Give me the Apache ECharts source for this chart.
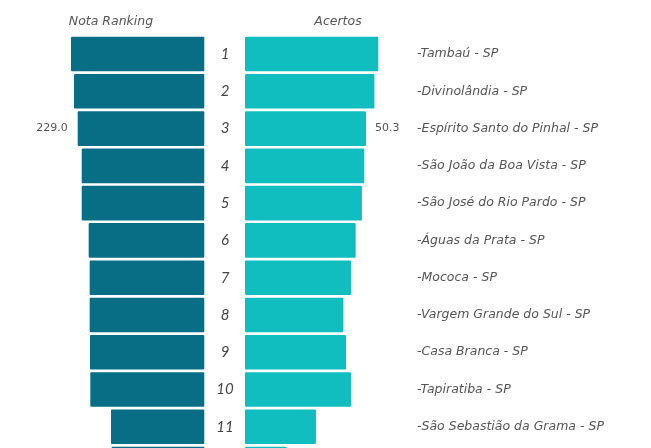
<!DOCTYPE html>
<html>
<head>
<meta charset="utf-8">
<script src="https://cdn.jsdelivr.net/npm/echarts@6/dist/echarts.min.js"></script>
<style>html,body{margin:0;padding:0;background:#fff;overflow:hidden;}#c{width:651px;height:500px;}</style>
</head>
<body>
<div id="c"></div>
<script>
const ranks = ['1','2','3','4','5','6','7','8','9','10','11','12'];
const cities = ['Tambaú - SP','Divinolândia - SP','Espírito Santo do Pinhal - SP','São João da Boa Vista - SP','São José do Rio Pardo - SP','Águas da Prata - SP','Mococa - SP','Vargem Grande do Sul - SP','Casa Branca - SP','Tapiratiba - SP','São Sebastião da Grama - SP','Itobi - SP'];
const notaRanking = [241.1, 235.7, 229.0, 221.7, 221.7, 209.1, 207.3, 207.3, 206.7, 206.2, 168.7, 167.5];
const acertos = [55.4, 53.8, 50.3, 49.6, 48.6, 46.0, 44.1, 40.9, 42.0, 44.1, 29.5, 17.3];
const labelIndex = 2;

const chart = echarts.init(document.getElementById('c'));
const gridTop = 35.4, gridH = 447.3;
const txt = '#555';
chart.setOption({
  animation: false,
  title: [
    {text: 'Nota Ranking', left: 106, top: 10, textAlign: 'center',
     textStyle: {fontFamily: 'DejaVu Sans', fontStyle: 'italic', fontSize: 12.5, fontWeight: 'normal', color: txt}},
    {text: 'Acertos', left: 333, top: 10, textAlign: 'center',
     textStyle: {fontFamily: 'DejaVu Sans', fontStyle: 'italic', fontSize: 12.5, fontWeight: 'normal', color: txt}}
  ],
  grid: [
    {left: 0, top: gridTop, width: 204.3, height: gridH},
    {left: 245, top: gridTop, width: 172, height: gridH}
  ],
  xAxis: [
    {gridIndex: 0, type: 'value', inverse: true, min: 0, max: 369.5, show: false},
    {gridIndex: 1, type: 'value', min: 0, max: 71.5, show: false}
  ],
  yAxis: [
    {gridIndex: 0, type: 'category', data: ranks, inverse: true, position: 'right',
     axisLine: {show: false}, axisTick: {show: false}, splitLine: {show: false},
     axisLabel: {margin: 20.7, align: 'center', fontFamily: 'Lato', fontStyle: 'italic', fontSize: 15, color: '#444'}},
    {gridIndex: 1, type: 'category', data: cities, inverse: true, position: 'right',
     axisLine: {show: false}, axisTick: {show: false}, splitLine: {show: false},
     axisLabel: {margin: 0, align: 'left', formatter: '-{value}', fontFamily: 'DejaVu Sans', fontStyle: 'italic', fontSize: 12.5, color: txt}}
  ],
  series: [
    {type: 'bar', xAxisIndex: 0, yAxisIndex: 0, barCategoryGap: '7.2%',
     itemStyle: {color: '#076e85', borderRadius: 1},
     label: {show: false, position: 'left', distance: 10, color: txt, fontFamily: 'DejaVu Sans', fontSize: 11,
       formatter: p => p.value.toFixed(1)},
     data: notaRanking.map((v, i) => i === labelIndex ? {value: v, label: {show: true}} : v)},
    {type: 'bar', xAxisIndex: 1, yAxisIndex: 1, barCategoryGap: '7.2%',
     itemStyle: {color: '#10bec0', borderRadius: 1},
     label: {show: false, position: 'right', distance: 9, color: txt, fontFamily: 'DejaVu Sans', fontSize: 11,
       formatter: p => p.value.toFixed(1)},
     data: acertos.map((v, i) => i === labelIndex ? {value: v, label: {show: true}} : v)}
  ]
});
</script>
</body>
</html>
